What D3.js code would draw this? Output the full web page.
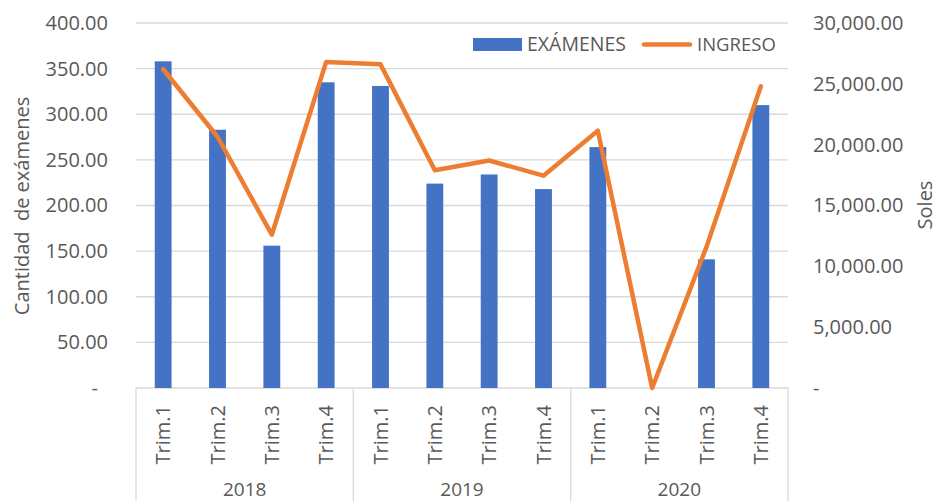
<!DOCTYPE html>
<html>
<head>
<meta charset="utf-8">
<script src="https://cdn.jsdelivr.net/npm/d3@7"></script>
<style>
  html, body { margin: 0; padding: 0; background: #fff; }
  svg { display: block; }
  text { font-family: "Open Sans", "Noto Sans", sans-serif; fill: #595959; }
</style>
</head>
<body>
<svg id="chart" width="938" height="501"></svg>
<script>
const years = ["2018", "2019", "2020"];
const quarters = ["Trim.1", "Trim.2", "Trim.3", "Trim.4"];
const examenes = [358, 283, 156, 335, 331, 224, 234, 218, 264, 0, 141, 310];
const ingreso = [26200, 20650, 12600, 26800, 26600, 17900, 18700, 17450, 21150, 0, 11600, 24800];
const leftTicks = [0, 50, 100, 150, 200, 250, 300, 350, 400];
const rightTicks = [0, 5000, 10000, 15000, 20000, 25000, 30000];
const seriesNames = ["EXÁMENES", "INGRESO"];

const categories = [];
years.forEach(y => quarters.forEach(q => categories.push(y + "|" + q)));

const svg = d3.select("#chart");
const pLeft = 136, pRight = 788, pTop = 23, pBottom = 388;

const x = d3.scaleBand().domain(categories).range([pLeft, pRight])
  .paddingInner(0.69).paddingOuter(0.345);
const yL = d3.scaleLinear().domain([0, 400]).range([pBottom, pTop]);
const yR = d3.scaleLinear().domain([0, 30000]).range([pBottom, pTop]);

const fmt = d3.format(",.2f");

// gridlines
svg.append("g").selectAll("line").data(leftTicks.filter(d => d > 0)).join("line")
  .attr("x1", pLeft).attr("x2", pRight)
  .attr("y1", d => yL(d)).attr("y2", d => yL(d))
  .attr("stroke", "#d9d9d9").attr("stroke-width", 1.3);

// left axis
const gL = svg.append("g").attr("transform", `translate(${pLeft},0)`)
  .call(d3.axisLeft(yL).tickValues(leftTicks).tickSize(0).tickPadding(28)
    .tickFormat(d => d === 0 ? "-" : fmt(d)));
gL.select(".domain").remove();
gL.selectAll("text").style("font-size", "20px").attr("fill", "#595959")
  .attr("dx", d => d === 0 ? -10 : 0);
gL.attr("font-family", null);

// right axis
const gR = svg.append("g").attr("transform", `translate(${pRight},0)`)
  .call(d3.axisRight(yR).tickValues(rightTicks).tickSize(0).tickPadding(25)
    .tickFormat(d => d === 0 ? "-" : fmt(d)));
gR.select(".domain").remove();
gR.selectAll("text").style("font-size", "20px").attr("fill", "#595959");
gR.attr("font-family", null);

// category axis lines
const sep = svg.append("g");
sep.append("line").attr("x1", pLeft).attr("x2", pRight).attr("y1", pBottom).attr("y2", pBottom)
  .attr("stroke", "#d9d9d9").attr("stroke-width", 1.3);
const step = x.step();
const groupEdges = [0, 4, 8, 12].map(i => pLeft + i * step);
sep.selectAll("line.v").data(groupEdges).join("line").attr("class", "v")
  .attr("x1", d => d).attr("x2", d => d).attr("y1", pBottom).attr("y2", 501)
  .attr("stroke", "#d9d9d9").attr("stroke-width", 1.3);

// quarter labels
svg.append("g").selectAll("text").data(categories).join("text")
  .attr("transform", d => `translate(${x(d) + x.bandwidth() / 2 + 7},405) rotate(-90)`)
  .attr("text-anchor", "end")
  .style("font-size", "20px")
  .text(d => d.split("|")[1]);

// year labels
svg.append("g").selectAll("text").data(years).join("text")
  .attr("x", (d, i) => (groupEdges[i] + groupEdges[i + 1]) / 2)
  .attr("y", 496)
  .attr("text-anchor", "middle")
  .style("font-size", "19px")
  .text(d => d);

// bars
svg.append("g").selectAll("rect").data(examenes).join("rect")
  .attr("x", (d, i) => x(categories[i]))
  .attr("width", x.bandwidth())
  .attr("y", d => yL(d))
  .attr("height", d => yL(0) - yL(d))
  .attr("fill", "#4472C4");

// line
const line = d3.line()
  .x((d, i) => x(categories[i]) + x.bandwidth() / 2)
  .y(d => yR(d));
svg.append("path").datum(ingreso)
  .attr("d", line)
  .attr("fill", "none")
  .attr("stroke", "#ED7D31")
  .attr("stroke-width", 4.5)
  .attr("stroke-linejoin", "round")
  .attr("stroke-linecap", "round");

// axis titles
svg.append("text")
  .attr("transform", "translate(29,206) rotate(-90)")
  .attr("text-anchor", "middle")
  .style("font-size", "20px")
  .style("white-space", "pre")
  .attr("xml:space", "preserve")
  .text("Cantidad  de exámenes");
svg.append("text")
  .attr("transform", "translate(932,205) rotate(-90)")
  .attr("text-anchor", "middle")
  .style("font-size", "20px")
  .text("Soles");

// legend
const lg = svg.append("g");
lg.append("rect").attr("x", 473).attr("y", 38).attr("width", 49).attr("height", 13).attr("fill", "#4472C4");
lg.append("text").attr("x", 527).attr("y", 51).style("font-size", "19.5px").text(seriesNames[0]);
lg.append("line").attr("x1", 644).attr("x2", 690).attr("y1", 44.5).attr("y2", 44.5)
  .attr("stroke", "#ED7D31").attr("stroke-width", 4.5).attr("stroke-linecap", "round");
lg.append("text").attr("x", 697).attr("y", 51).style("font-size", "18.5px").text(seriesNames[1]);
</script>
</body>
</html>
